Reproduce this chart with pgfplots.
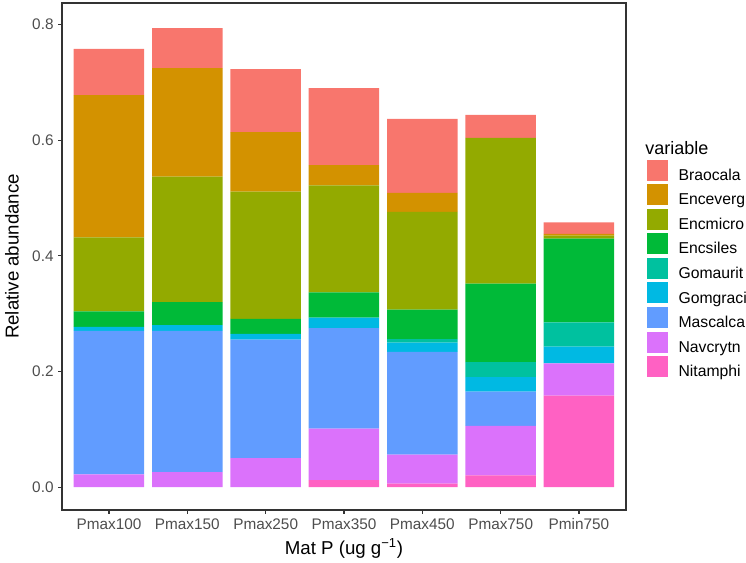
\documentclass[border=0pt]{standalone}
\usepackage{pgfplots}
\usepackage{pgfplotstable}
\pgfplotsset{compat=1.18}
\usepackage{fontspec}
\setmainfont{Liberation Sans}
\definecolor{cBrao}{HTML}{F8766D}
\definecolor{cEncev}{HTML}{D39200}
\definecolor{cEncmi}{HTML}{93AA00}
\definecolor{cEncsi}{HTML}{00BA38}
\definecolor{cGomau}{HTML}{00C19F}
\definecolor{cGomgr}{HTML}{00B9E3}
\definecolor{cMasc}{HTML}{619CFF}
\definecolor{cNav}{HTML}{DB72FB}
\definecolor{cNit}{HTML}{FF61C3}
\definecolor{gthirty}{HTML}{4D4D4D}
\definecolor{gtwenty}{HTML}{333333}
\pgfplotstableread{
x Nit Nav Masc Gomgr Gomau Encsi Encmi Encev Brao
1 0     0.022 0.248 0.007 0     0.027 0.128 0.246 0.080
2 0     0.026 0.244 0.010 0     0.040 0.217 0.188 0.069
3 0     0.050 0.205 0.010 0     0.026 0.220 0.103 0.109
4 0.012 0.089 0.174 0.018 0     0.044 0.185 0.035 0.133
5 0.006 0.050 0.178 0.016 0.006 0.051 0.169 0.033 0.128
6 0.020 0.086 0.059 0.025 0.026 0.136 0.252 0     0.040
7 0.158 0.056 0     0.029 0.042 0.145 0.005 0.003 0.020
}\datatable
\begin{document}
\begin{tikzpicture}
\path[use as bounding box] (-46.5pt,-39.75pt) rectangle (513pt,382.5pt);
\begin{axis}[
  at={(0pt,0pt)}, anchor=south west,
  scale only axis, width=423pt, height=380.25pt,
  ybar stacked, bar width=0.9,
  xmin=0.4, xmax=7.6, ymin=-0.0397, ymax=0.8375,
  xtick={1,...,7},
  xticklabels={Pmax100,Pmax150,Pmax250,Pmax350,Pmax450,Pmax750,Pmin750},
  ytick={0,0.2,0.4,0.6,0.8},
  yticklabel style={/pgf/number format/.cd, fixed, fixed zerofill, precision=1, /pgf/number format/assume math mode=true},
  /pgf/number format/assume math mode=true,
  tick label style={font=\fontsize{11.5}{13}\selectfont, text=gthirty},
  tick align=outside, tick pos=left, major tick length=2.8pt,
  every tick/.style={gtwenty, line width=0.8pt},
  axis line style={gtwenty, line width=0.9pt},
  clip=false,
  xlabel={Mat P (ug g\textsuperscript{\char"2212 1})},
  ylabel={Relative abundance},
  every axis x label/.style={at={(axis description cs:0.5,-0.075)}, anchor=center, font=\fontsize{14}{16}\selectfont},
  every axis y label/.style={at={(axis description cs:-0.0887,0.5)}, rotate=90, anchor=center, font=\fontsize{14}{16}\selectfont},
  reverse legend,
  legend style={draw=none, fill=none, inner sep=0pt, outer sep=0pt,
    at={(1.0355,0.476)}, anchor=west, row sep=0.75pt, column sep=7.5pt,
    nodes={inner sep=0pt}, font=\fontsize{11.8}{13}\selectfont},
  legend cell align=left,
  legend image code/.code={\draw[#1, draw=white, line width=0.4pt] (0pt,-4pt) rectangle (16.5pt,12.5pt);},
]
\addplot[fill=cNit, draw=none] table[x=x, y=Nit] {\datatable};
\addplot[fill=cNav, draw=none] table[x=x, y=Nav] {\datatable};
\addplot[fill=cMasc, draw=none] table[x=x, y=Masc] {\datatable};
\addplot[fill=cGomgr, draw=none] table[x=x, y=Gomgr] {\datatable};
\addplot[fill=cGomau, draw=none] table[x=x, y=Gomau] {\datatable};
\addplot[fill=cEncsi, draw=none] table[x=x, y=Encsi] {\datatable};
\addplot[fill=cEncmi, draw=none] table[x=x, y=Encmi] {\datatable};
\addplot[fill=cEncev, draw=none] table[x=x, y=Encev] {\datatable};
\addplot[fill=cBrao, draw=none] table[x=x, y=Brao] {\datatable};
\legend{Nitamphi,Navcrytn,Mascalca,Gomgraci,Gomaurit,Encsiles,Encmicro,Enceverg,Braocala}
\node[anchor=base west, inner sep=0pt, font=\fontsize{13.5}{15}\selectfont] at (rel axis cs:1.0337,0.702) {variable};
\end{axis}
\end{tikzpicture}
\end{document}
